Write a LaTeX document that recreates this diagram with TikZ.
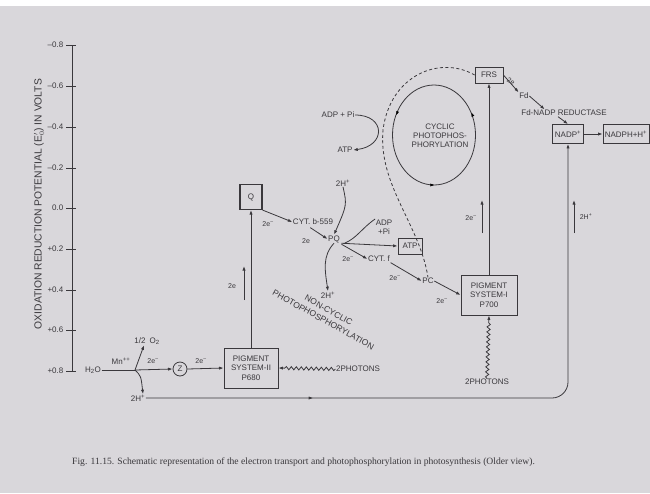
\documentclass[tikz,border=0pt]{standalone}
\usepackage{fontspec}
\setmainfont{Liberation Sans}
\newfontfamily\capfont{Liberation Serif}
\usetikzlibrary{arrows.meta,decorations.pathmorphing,decorations.markings,shapes.geometric,calc}
\definecolor{ink}{HTML}{3A383C}
\definecolor{paper}{HTML}{D9D7DB}
\begin{document}
\begin{tikzpicture}[x=1pt,y=-1pt,
  ln/.style={draw=ink,line width=0.8pt},
  arr/.style={ln,-{Latex[length=4.5pt,width=3.2pt]}},
  lbl/.style={text=ink,font=\fontsize{8}{9}\selectfont,inner sep=0.5pt},
  sm/.style={text=ink,font=\fontsize{7}{8}\selectfont,inner sep=0.5pt},
  boxn/.style={draw=ink,line width=0.8pt,text=ink,font=\fontsize{8}{9.5}\selectfont,align=center,inner sep=2pt},
  wavy/.style={decorate,decoration={snake,amplitude=1.6pt,segment length=5pt,post length=6pt}},
  midarr/.style={postaction={decorate,decoration={markings,mark=at position #1 with {\arrow{Latex[length=4.5pt,width=3.2pt]}}}}},
]
\fill[paper] (0,0) rectangle (650,493);
\fill[white] (0,0) rectangle (650,6);
\useasboundingbox (0,0) rectangle (650,493);

% axis
\coordinate (atop) at (72,45);
\coordinate (abot) at (72,371);
\draw[ln] (atop) -- (abot);
\foreach \v/\yy [count=\i] in {{--0.8}/45,{--0.6}/86,{--0.4}/127,{--0.2}/168,{0.0}/208,{+0.2}/249,{+0.4}/290,{+0.6}/330,{+0.8}/371}{
  \draw[ln] (66,\yy) -- (76,\yy);
  \node[lbl,anchor=east] (t\i) at (64,\yy) {\v};
}
\node[text=ink,font=\fontsize{10.3}{11}\selectfont,rotate=90] (alab) at (39,204) {OXIDATION REDUCTION POTENTIAL (E$'_{0}$) IN VOLTS};

% water splitting
\node[lbl] (h2o) at (93,370) {H\textsubscript{2}O};
\coordinate (split) at (135,370);
\draw[ln] (h2o.east) -- (split);
\node[lbl] (mn) at (121,361) {Mn\textsuperscript{++}};
\node[lbl] (o2) at (147,341) {1/2\enspace O\textsubscript{2}};
\draw[arr] (split) -- ($(o2.south)+(-3,0)$);
\node[sm] (e0) at (153,361) {2e\textsuperscript{--}};
\node[circle,draw=ink,line width=0.8pt,minimum size=14pt,inner sep=0pt,text=ink,font=\fontsize{8}{9}\selectfont] (z) at (180,369) {Z};
\draw[arr] (split) -- (z.west);
\node[lbl] (h2b) at (138,398) {2H\textsuperscript{+}};
\draw[arr] (split) .. controls (141,376) .. ($(h2b.north)+(5,0)$);

% PS II
\node[boxn,minimum width=54pt,minimum height=40pt] (ps2) at (251,368) {PIGMENT\\SYSTEM-II\\P680};
\draw[arr] (z.east) -- (ps2.west);
\node[sm] (e1) at (201,361) {2e\textsuperscript{--}};
\node[lbl] (ph2) at (358,369) {2PHOTONS};
\draw[arr,wavy] (ph2.west) -- (ps2.east);

% long H+ line to NADP
\node[boxn,minimum width=29pt,minimum height=19pt] (nadp) at (568,134) {NADP\textsuperscript{+}};
\draw[arr,rounded corners=16pt,midarr=0.25] (h2b.east) -- (568,398) -- (nadp.south);
\coordinate (hA) at (574,233); \coordinate (hB) at (574,200);
\draw[arr] (hA) -- (hB);
\node[sm] (h2r) at (586,217) {2H\textsuperscript{+}};

% Q and chain
\node[boxn,minimum width=22pt,minimum height=25pt,line width=1.1pt] (q) at (251,197) {Q};
\draw[arr] (ps2.north) -- (q.south);
\coordinate (eA) at (244,300); \coordinate (eB) at (244,266);
\draw[arr] (eA) -- (eB);
\node[sm] (e2) at (232,286) {2e};
\node[lbl] (cytb) at (313,222) {CYT. b-559};
\draw[arr] (q.south east) -- (cytb.west);
\node[sm] (e3) at (268,224) {2e\textsuperscript{--}};
\node[lbl] (pq) at (334,239) {PQ};
\draw[arr] ($(cytb.south west)+(18,2)$) -- (pq.west);
\node[sm] (e4) at (306,241) {2e};
\node[lbl] (h2t) at (343,183) {2H\textsuperscript{+}};
\draw[arr] (h2t.south) .. controls (347,205) .. (pq.north);
\node[lbl] (h2l) at (328,295) {2H\textsuperscript{+}};
\draw[arr] (pq.south) .. controls (322,256) and (325,271) .. (h2l.north);
\node[boxn,minimum width=24pt,minimum height=16pt,inner sep=1pt] (atp) at (410,246) {ATP};
\draw[arr] ($(pq.south east)+(1,0)$) -- (atp.west);
\node[lbl,align=center] (adp2) at (384,227) {ADP\\+Pi};
\draw[ln] (adp2.north west) .. controls (362,228) and (357,238) .. ($(pq.south east)+(4,0)$);
\node[lbl] (cytf) at (379,259) {CYT. f};
\draw[arr] ($(pq.south east)+(1,1)$) -- (cytf.west);
\node[sm] (e5) at (348,259) {2e\textsuperscript{--}};
\node[lbl] (pc) at (428,281) {PC};
\draw[arr] (cytf.south east) -- (pc.west);
\node[sm] (e6) at (395,278) {2e\textsuperscript{--}};

% PS I
\node[boxn,minimum width=56pt,minimum height=40pt] (ps1) at (489,295) {PIGMENT\\SYSTEM-I\\P700};
\draw[arr] (pc.east) -- (ps1.west);
\node[sm] (e7) at (442,301) {2e\textsuperscript{--}};
\node[lbl] (ph1) at (487,382) {2PHOTONS};
\draw[arr,wavy] (ph1.north) -- (ps1.south);
\node[boxn,minimum width=28pt,minimum height=16pt,inner sep=1pt] (frs) at (489,75) {FRS};
\draw[arr] (ps1.north) -- (frs.south);
\coordinate (fA) at (482,233); \coordinate (fB) at (482,200);
\draw[arr] (fA) -- (fB);
\node[sm] (e8) at (471,218) {2e\textsuperscript{--}};

% Fd chain
\node[lbl] (fd) at (524,96) {Fd};
\draw[arr] (frs.east) -- (fd.north west);
\node[sm,rotate=-30] (e9) at (511,81) {2e};
\node[lbl] (red) at (564,113) {Fd-NADP REDUCTASE};
\draw[arr] (fd.east) -- ($(red.north west)+(24,0)$);
\draw[arr] ($(red.south)+(-6,0)$) -- (nadp.north);
\node[boxn,minimum width=46pt,minimum height=19pt,inner sep=1pt] (nadph) at (626,134) {NADPH+H\textsuperscript{+}};
\draw[arr] (nadp.east) -- (nadph.west);

% cyclic
\node[ellipse,draw=ink,line width=0.8pt,minimum width=83pt,minimum height=100pt,inner sep=0pt] (cyc) at (434,135) {};
\node[lbl,align=center] (cyct) at (440,136) {CYCLIC\\PHOTOPHOS-\\PHORYLATION};
\draw[draw=none,postaction={decorate,decoration={markings,
   mark=at position 0.08 with {\arrow{Latex[length=4pt,width=3pt]}},
   mark=at position 0.43 with {\arrow{Latex[length=4pt,width=3pt]}},
   mark=at position 0.75 with {\arrow{Latex[length=4pt,width=3pt]}}}}]
   (cyc.east) arc[start angle=0,end angle=360,x radius=41.5pt,y radius=50pt];
\node[lbl] (adp1) at (338,115) {ADP + Pi};
\node[lbl] (atp1) at (345,150) {ATP};
\draw[arr] (adp1.east) .. controls (386,115) and (386,146) .. (atp1.east);
\draw[ln,dashed,dash pattern=on 3pt off 2.5pt] (frs.west) .. controls (440,55) and (390,75) .. (383,130) .. controls (378,185) and (420,225) .. (pc.north);

% non-cyclic label
\node[text=ink,font=\fontsize{8.5}{11}\selectfont,rotate=-29,inner sep=0pt,align=center] (nc) at (326,315) {NON-CYCLIC\\PHOTOPHOSPHORYLATION};

% caption
\node[text=ink,font=\capfont\fontsize{9.6}{11}\selectfont,anchor=west,inner sep=0pt] (cap) at (72,462) {Fig. 11.15. Schematic representation of the electron transport and photophosphorylation in photosynthesis (Older view).};
\end{tikzpicture}
\end{document}
